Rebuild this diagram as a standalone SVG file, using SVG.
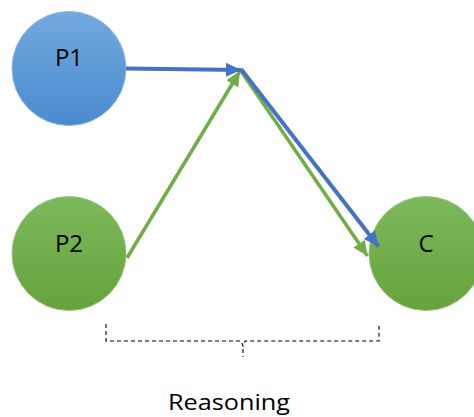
<svg xmlns="http://www.w3.org/2000/svg" width="474" height="417" viewBox="0 0 474 417">
<defs>
<linearGradient id="gBlue" x1="0" y1="0" x2="0" y2="1">
<stop offset="0" stop-color="#73A9DE"/>
<stop offset="1" stop-color="#4A8BCF"/>
</linearGradient>
<linearGradient id="gGreen" x1="0" y1="0" x2="0" y2="1">
<stop offset="0" stop-color="#7DB95B"/>
<stop offset="1" stop-color="#66A23C"/>
</linearGradient>
<marker id="aBlue" markerUnits="userSpaceOnUse" markerWidth="16" markerHeight="16" refX="15" refY="7" orient="auto" viewBox="0 0 16 14">
<path d="M0,0 L15,7 L0,14 Z" fill="#4472C4"/>
</marker>
<marker id="aGreen" markerUnits="userSpaceOnUse" markerWidth="16" markerHeight="16" refX="15" refY="7" orient="auto" viewBox="0 0 16 14">
<path d="M0,0 L15,7 L0,14 Z" fill="#70AD47"/>
</marker>
</defs>
<style>
.lbl{font-family:"Open Sans","Liberation Sans",sans-serif;font-size:24px;fill:#000;text-anchor:middle}
.blue{stroke:#4472C4;stroke-width:4;fill:none;marker-end:url(#aBlue)}
.green{stroke:#70AD47;stroke-width:3.5;fill:none;marker-end:url(#aGreen)}
.brace{stroke:#000;stroke-width:1.1;fill:none;stroke-dasharray:4,3}
</style>
<rect width="474" height="417" fill="#fff"/>
<g id="P1">
<circle cx="69" cy="68.5" r="57" fill="url(#gBlue)" stroke="#8DB8E4" stroke-width="1"/>
<text class="lbl" x="69" y="66">P1</text>
</g>
<g id="P2">
<circle cx="69" cy="253.5" r="57" fill="url(#gGreen)" stroke="#96C87A" stroke-width="1"/>
<text class="lbl" x="69" y="252">P2</text>
</g>
<g id="C">
<circle cx="426" cy="253.5" r="57" fill="url(#gGreen)" stroke="#96C87A" stroke-width="1"/>
<text class="lbl" x="426" y="252">C</text>
</g>
<g id="connectors">
<line class="green" x1="127" y1="258" x2="240" y2="71"/>
<line class="green" x1="241" y1="71" x2="367.5" y2="256"/>
<line class="blue" x1="126" y1="68.5" x2="241" y2="70"/>
<line class="blue" x1="241" y1="69" x2="378.5" y2="246.5"/>
</g>
<g id="brace">
<path class="brace" d="M106,324 L106,341 L241,341 L243,346 L245,341 L379,341 L379,324"/>
<line class="brace" x1="243" y1="349" x2="243" y2="357"/>
</g>
<text id="reasoning" x="229" y="410" style="font-family:'Open Sans','Liberation Sans',sans-serif;font-size:22px;fill:#000;text-anchor:middle" textLength="122" lengthAdjust="spacingAndGlyphs">Reasoning</text>
</svg>
